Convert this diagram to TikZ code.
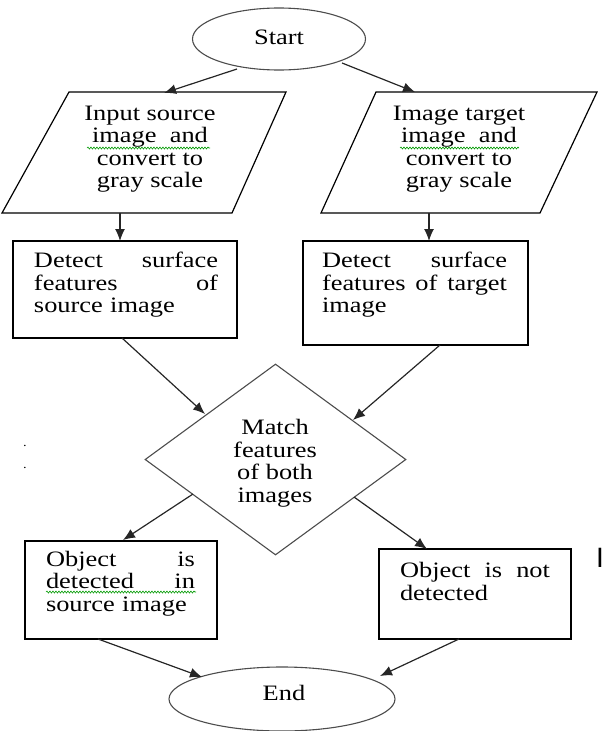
\documentclass[tikz,border=0pt]{standalone}
\usepackage{fontspec}
\setmainfont{Liberation Serif}[FakeStretch=1.2]
\newfontfamily\barfont{Liberation Sans}
\usetikzlibrary{shapes.geometric,arrows.meta,decorations.pathmorphing}
\newcommand{\jline}[2]{\leavevmode\hbox to #1{#2}}
\begin{document}
\begin{tikzpicture}[x=1pt,y=-1pt,
  arr/.style={-{Latex[length=12pt,width=10pt]}, line width=1.2pt, draw=black!85},
  shp/.style={draw=black, line width=1.2pt},
  soft/.style={draw=black!70, line width=1.1pt},
  txt/.style={font=\fontsize{22}{22.5}\selectfont, inner sep=0pt},
  wavy/.style={draw=green!60!black, line width=0.6pt, decorate, decoration={snake, amplitude=1pt, segment length=3pt}}]
\useasboundingbox (0,0) rectangle (603,731);

% start / end
\node[soft, ellipse, minimum width=173pt, minimum height=62pt, inner sep=0pt, txt] (start) at (279,39) {};
\node[txt] (starttxt) at (279,37) {Start};
\node[soft, ellipse, minimum width=226pt, minimum height=64pt, inner sep=0pt] (end) at (282,699) {};
\node[txt] (endtxt) at (284,693) {End};

% parallelograms
\draw[shp] (69,92) -- (286,92) -- (232,213) -- (2,213) -- cycle;
\node[txt, align=center] (paraL) at (150,149) {Input source\\image\ \ and\\convert to\\gray scale};
\draw[shp] (376,92) -- (597,92) -- (540,213) -- (321,213) -- cycle;
\node[txt, align=center] (paraR) at (459,149) {Image target\\image\ \ and\\convert to\\gray scale};
\draw[wavy] (87,148) -- (210,148);
\draw[wavy] (400,148) -- (519,148);

% boxes
\node[shp, minimum width=224pt, minimum height=97pt, inner sep=0pt] (boxL) at (125,289.5) {};
\node[txt, text width=184pt, align=left] (boxLt) at (126,285) {\jline{184pt}{Detect\hfill surface}\\\jline{184pt}{features\hfill of}\\source image};
\node[shp, minimum width=225pt, minimum height=104pt, inner sep=0pt] (boxR) at (415.5,293) {};
\node[txt, text width=185pt, align=left] (boxRt) at (414.5,285) {\jline{185pt}{Detect\hfill surface}\\\jline{185pt}{features\hfill of\hfill target}\\image};

% diamond
\node[soft, diamond, minimum width=261pt, minimum height=191pt, inner sep=0pt] (match) at (275.5,459.5) {};
\node[txt, align=center] (matcht) at (275,463) {Match\\features\\of both\\images};

% result boxes
\node[shp, minimum width=192pt, minimum height=98pt, inner sep=0pt] (objL) at (121,590) {};
\node[txt, text width=149pt, align=left] (objLt) at (120.5,583.5) {\jline{149pt}{Object\hfill is}\\\jline{149pt}{detected\hfill in}\\source image};
\draw[wavy] (46,592) -- (196,592);
\node[shp, minimum width=192pt, minimum height=90pt, inner sep=0pt] (objR) at (475,594) {};
\node[txt, text width=150pt, align=left] (objRt) at (475,581.5) {\jline{150pt}{Object\hfill is\hfill not}\\detected};

% stray marks
\node[font=\fontsize{12}{12}\selectfont, inner sep=0pt] (dot1) at (25,446) {.};
\node[font=\fontsize{12}{12}\selectfont, inner sep=0pt] (dot2) at (25,468) {.};
\node[font=\barfont\fontsize{28}{28}\selectfont, inner sep=0pt] (cursor) at (600,558) {I};

% connector end points
\coordinate (a1) at (237,69);  \coordinate (a2) at (164,93);
\coordinate (b1) at (342,63);  \coordinate (b2) at (415,92);
\coordinate (c1) at (120,213); \coordinate (c2) at (120,241);
\coordinate (d1) at (429,213); \coordinate (d2) at (429,241);
\coordinate (e1) at (122,338); \coordinate (e2) at (205,414);
\coordinate (f1) at (440,345); \coordinate (f2) at (353,420);
\coordinate (g1) at (193,494); \coordinate (g2) at (123,540);
\coordinate (h1) at (354,497); \coordinate (h2) at (427,549);
\coordinate (i1) at (98,639);  \coordinate (i2) at (202,677);
\coordinate (j1) at (459,639); \coordinate (j2) at (380,676);

\draw[arr] (a1) -- (a2);
\draw[arr] (b1) -- (b2);
\draw[arr] (c1) -- (c2);
\draw[arr] (d1) -- (d2);
\draw[arr] (e1) -- (e2);
\draw[arr] (f1) -- (f2);
\draw[arr] (g1) -- (g2);
\draw[arr] (h1) -- (h2);
\draw[arr] (i1) -- (i2);
\draw[arr] (j1) -- (j2);
\end{tikzpicture}
\end{document}
